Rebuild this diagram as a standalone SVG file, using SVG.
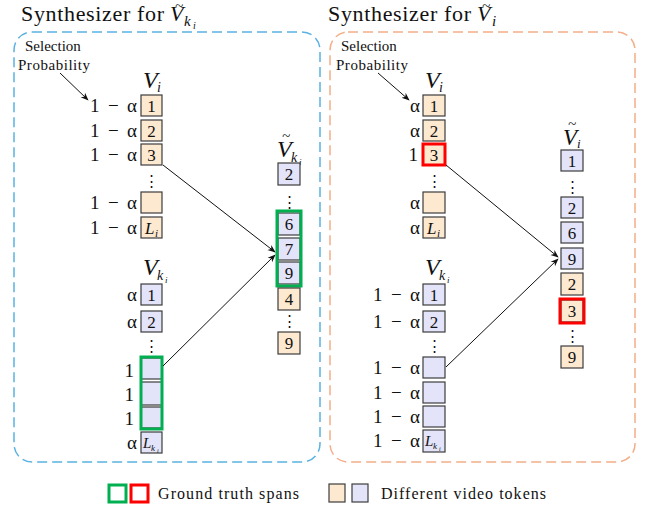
<svg xmlns="http://www.w3.org/2000/svg" width="646" height="509" viewBox="0 0 646 509">
<style>
text{font-family:"Times New Roman","Liberation Serif","DejaVu Serif",serif;fill:#111}
.ttl{font-size:22px}
.sel{font-size:15px}
.m{font-size:19px}
.it{font-style:italic}
.d{font-size:17px;text-anchor:middle}
.dots{font-family:"DejaVu Serif",serif;font-size:15px;text-anchor:middle}
.o{fill:#FDE8D0;stroke:#3c3c3c;stroke-width:1.2}
.l{fill:#E3E3FA;stroke:#3c3c3c;stroke-width:1.2}
.g{fill:none;stroke:#00B050;stroke-width:3}
.r{fill:none;stroke:#FF0000;stroke-width:3}
.conn{stroke:#111;stroke-width:1;fill:none;marker-end:url(#ah)}
.end{text-anchor:end}
</style>
<defs>
<marker id="ah" viewBox="0 0 10 10" refX="9" refY="5" markerWidth="8" markerHeight="8" orient="auto" markerUnits="userSpaceOnUse">
<path d="M0,1 L10,5 L0,9 L3,5 z" fill="#111"/>
</marker>
</defs>

<!-- Left panel -->
<g id="panel-left">
<rect x="14" y="32" width="306" height="430" rx="18" fill="none" stroke="#5AB2E2" stroke-width="1.5" stroke-dasharray="10 5"/>
<text class="ttl" x="21" y="21" textLength="143">Synthesizer for</text>
<text class="ttl it" x="170" y="21" font-size="24">V</text>
<text class="it" x="175" y="11" font-size="15">~</text>
<text class="it" x="184" y="26" font-size="15">k</text>
<text class="it" x="193" y="29" font-size="10">i</text>
<text class="sel" x="25" y="51">Selection</text>
<text class="sel" x="18" y="70" textLength="72">Probability</text>
</g>

<g id="left-Vi">
<text class="it" x="143" y="88" font-size="24">V</text>
<text class="it" x="157" y="92" font-size="14">i</text>
<rect class="o" x="141" y="95" width="21" height="21"/><text class="d" x="151.5" y="112">1</text>
<rect class="o" x="141" y="120" width="21" height="21"/><text class="d" x="151.5" y="137">2</text>
<rect class="o" x="141" y="144" width="21" height="21"/><text class="d" x="151.5" y="161">3</text>
<text class="dots" x="151.5" y="186">⋮</text>
<rect class="o" x="141" y="192" width="21" height="21"/>
<rect class="o" x="141" y="217" width="21" height="21"/><text class="it" x="145" y="234" font-size="17">L</text><text class="it" x="155" y="237" font-size="11">i</text>
<text class="m end" x="137" y="112" textLength="47">1 − α</text>
<text class="m end" x="137" y="137" textLength="47">1 − α</text>
<text class="m end" x="137" y="161" textLength="47">1 − α</text>
<text class="m end" x="137" y="209" textLength="47">1 − α</text>
<text class="m end" x="137" y="234" textLength="47">1 − α</text>
</g>

<g id="left-Vki">
<text class="it" x="143" y="275" font-size="24">V</text>
<text class="it" x="157" y="280" font-size="14">k</text>
<text class="it" x="165" y="283" font-size="9">i</text>
<rect class="l" x="141" y="284" width="21" height="21"/><text class="d" x="151.5" y="301">1</text>
<rect class="l" x="141" y="311" width="21" height="21"/><text class="d" x="151.5" y="328">2</text>
<text class="dots" x="151.5" y="351">⋮</text>
<rect class="l" x="141" y="358" width="21" height="21"/>
<rect class="l" x="141" y="382" width="21" height="23"/>
<rect class="l" x="141" y="407" width="21" height="21"/>
<rect class="g" x="141" y="357" width="21" height="72"/>
<rect class="l" x="141" y="432" width="21" height="21"/><text class="it" x="143" y="448" font-size="15">L</text><text class="it" x="151" y="451" font-size="9">k</text><text class="it" x="157" y="453" font-size="6">i</text>
<text class="m end" x="137" y="301">α</text>
<text class="m end" x="137" y="328">α</text>
<text class="m end" x="134" y="377">1</text>
<text class="m end" x="134" y="401">1</text>
<text class="m end" x="134" y="425">1</text>
<text class="m end" x="137" y="449">α</text>
</g>

<g id="left-out">
<text class="it" x="277" y="157" font-size="24">V</text>
<text class="it" x="282" y="141" font-size="15">~</text>
<text class="it" x="291" y="162" font-size="14">k</text>
<text class="it" x="299" y="165" font-size="9">i</text>
<rect class="l" x="278" y="163" width="22" height="22"/><text class="d" x="289" y="180">2</text>
<text class="dots" x="289" y="207">⋮</text>
<rect class="l" x="278" y="213" width="22" height="22"/><text class="d" x="289" y="230">6</text>
<rect class="l" x="278" y="238" width="22" height="22"/><text class="d" x="289" y="255">7</text>
<rect class="l" x="278" y="262" width="22" height="22"/><text class="d" x="289" y="279">9</text>
<rect class="g" x="277" y="211" width="24" height="75"/>
<rect class="o" x="278" y="288" width="22" height="22"/><text class="d" x="289" y="305">4</text>
<text class="dots" x="289" y="326">⋮</text>
<rect class="o" x="278" y="332" width="22" height="22"/><text class="d" x="289" y="349">9</text>
</g>

<!-- Right panel -->
<g id="panel-right">
<rect x="330" y="32" width="305" height="430" rx="18" fill="none" stroke="#F4AE88" stroke-width="1.5" stroke-dasharray="10 5"/>
<text class="ttl" x="328" y="21" textLength="143">Synthesizer for</text>
<text class="ttl it" x="477" y="21" font-size="24">V</text>
<text class="it" x="482" y="11" font-size="15">~</text>
<text class="it" x="492" y="26" font-size="15">i</text>
<text class="sel" x="341" y="51">Selection</text>
<text class="sel" x="336" y="70" textLength="72">Probability</text>
</g>

<g id="right-Vi">
<text class="it" x="425" y="88" font-size="24">V</text>
<text class="it" x="439" y="92" font-size="14">i</text>
<rect class="o" x="423" y="95" width="22" height="21"/><text class="d" x="434" y="112">1</text>
<rect class="o" x="423" y="120" width="22" height="21"/><text class="d" x="434" y="137">2</text>
<rect class="o" x="423" y="144" width="22" height="21"/><text class="d" x="434" y="161">3</text>
<rect class="r" x="423" y="144" width="22" height="21"/>
<text class="dots" x="434" y="186">⋮</text>
<rect class="o" x="423" y="192" width="22" height="21"/>
<rect class="o" x="423" y="217" width="22" height="21"/><text class="it" x="427" y="234" font-size="17">L</text><text class="it" x="437" y="237" font-size="11">i</text>
<text class="m end" x="420" y="112">α</text>
<text class="m end" x="420" y="137">α</text>
<text class="m end" x="418" y="161">1</text>
<text class="m end" x="420" y="209">α</text>
<text class="m end" x="420" y="234">α</text>
</g>

<g id="right-Vki">
<text class="it" x="425" y="275" font-size="24">V</text>
<text class="it" x="439" y="280" font-size="14">k</text>
<text class="it" x="447" y="283" font-size="9">i</text>
<rect class="l" x="423" y="284" width="22" height="21"/><text class="d" x="434" y="301">1</text>
<rect class="l" x="423" y="311" width="22" height="21"/><text class="d" x="434" y="328">2</text>
<text class="dots" x="434" y="351">⋮</text>
<rect class="l" x="423" y="357" width="22" height="21"/>
<rect class="l" x="423" y="382" width="22" height="21"/>
<rect class="l" x="423" y="406" width="22" height="21"/>
<rect class="l" x="423" y="430" width="22" height="22"/><text class="it" x="425" y="446" font-size="15">L</text><text class="it" x="433" y="449" font-size="9">k</text><text class="it" x="439" y="451" font-size="6">i</text>
<text class="m end" x="420" y="301" textLength="47">1 − α</text>
<text class="m end" x="420" y="328" textLength="47">1 − α</text>
<text class="m end" x="420" y="374" textLength="47">1 − α</text>
<text class="m end" x="420" y="399" textLength="47">1 − α</text>
<text class="m end" x="420" y="423" textLength="47">1 − α</text>
<text class="m end" x="420" y="447" textLength="47">1 − α</text>
</g>

<g id="right-out">
<text class="it" x="563" y="145" font-size="23">V</text>
<text class="it" x="568" y="129" font-size="15">~</text>
<text class="it" x="577" y="148" font-size="13">i</text>
<rect class="l" x="561" y="150" width="22" height="21"/><text class="d" x="572" y="167">1</text>
<text class="dots" x="572" y="192">⋮</text>
<rect class="l" x="561" y="197" width="22" height="21"/><text class="d" x="572" y="214">2</text>
<rect class="l" x="561" y="222" width="22" height="21"/><text class="d" x="572" y="239">6</text>
<rect class="l" x="561" y="248" width="22" height="21"/><text class="d" x="572" y="265">9</text>
<rect class="o" x="561" y="273" width="22" height="22"/><text class="d" x="572" y="290">2</text>
<rect class="o" x="561" y="300" width="22" height="22"/><text class="d" x="572" y="317">3</text>
<rect class="r" x="560" y="299" width="24" height="24"/>
<text class="dots" x="572" y="341">⋮</text>
<rect class="o" x="561" y="346" width="22" height="22"/><text class="d" x="572" y="363">9</text>
</g>

<g id="connectors">
<line class="conn" x1="60" y1="73" x2="88" y2="100"/>
<line class="conn" x1="378" y1="73" x2="409" y2="100"/>
<line class="conn" x1="163" y1="165" x2="275" y2="252"/>
<line class="conn" x1="163" y1="366" x2="275" y2="255"/>
<line class="conn" x1="446" y1="165" x2="558" y2="257"/>
<line class="conn" x1="446" y1="367" x2="558" y2="259"/>
</g>

<g id="legend">
<rect class="g" x="109" y="485" width="17" height="17"/>
<rect class="r" x="131" y="485" width="17" height="17"/>
<text x="158" y="499" font-size="16" textLength="141">Ground truth spans</text>
<rect class="o" x="329" y="484" width="16" height="18"/>
<rect class="l" x="352" y="484" width="16" height="18"/>
<text x="381" y="499" font-size="16" textLength="165">Different video tokens</text>
</g>
</svg>
